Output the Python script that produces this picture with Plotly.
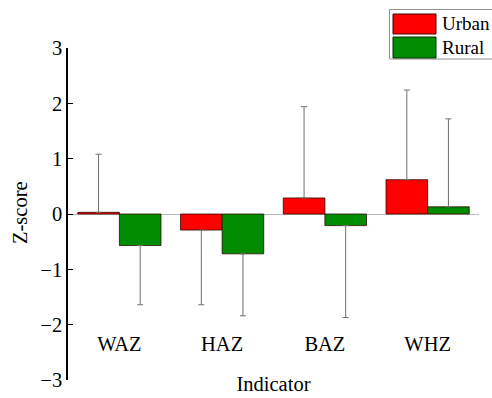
import plotly.graph_objects as go

categories = ["WAZ", "HAZ", "BAZ", "WHZ"]
urban_mean = [0.03, -0.29, 0.29, 0.62]
rural_mean = [-0.57, -0.72, -0.21, 0.13]
urban_sd = [1.05, 1.35, 1.65, 1.62]
rural_sd = [1.07, 1.12, 1.66, 1.59]
y_ticks = [-3, -2, -1, 0, 1, 2, 3]

FONT = "Liberation Serif, Times New Roman, serif"
RED = "#FF0000"
GREEN = "#008C00"
ERR = "#707070"
FS = 20.5


def up(m, s):
    return [sd if v >= 0 else 0 for v, sd in zip(m, s)]


def down(m, s):
    return [sd if v < 0 else 0 for v, sd in zip(m, s)]


fig = go.Figure()
for name, m, s, c in [("Urban", urban_mean, urban_sd, RED),
                      ("Rural", rural_mean, rural_sd, GREEN)]:
    fig.add_trace(go.Bar(
        x=categories, y=m, name=name,
        marker=dict(color=c, line=dict(color="rgba(40,0,0,0.75)", width=1)),
        error_y=dict(type="data", symmetric=False, array=up(m, s),
                     arrayminus=down(m, s), color=ERR, thickness=1, width=3),
        showlegend=False,
        hoverinfo="skip",
    ))

fig.update_layout(
    width=492, height=398,
    margin=dict(l=68, r=13, t=48, b=18),
    paper_bgcolor="white", plot_bgcolor="white",
    barmode="group", bargap=0.19, bargroupgap=0,
    font=dict(family=FONT, size=FS, color="black"),
    xaxis=dict(
        range=[-0.5, 3.5], anchor="free", position=0.152, automargin=False,
        showline=False, ticks="", showgrid=False, zeroline=False,
        tickfont=dict(size=FS),
        title=dict(text="Indicator", standoff=22, font=dict(size=FS)),
    ),
    yaxis=dict(
        range=[-3, 3], tickvals=y_ticks, showgrid=False, automargin=False,
        showline=True, linecolor="black", linewidth=1.5,
        ticks="inside", ticklen=5, tickcolor="black", tickwidth=1,
        zeroline=True, zerolinecolor="#b8b8b8", zerolinewidth=1,
        tickfont=dict(size=FS),
    ),
)


def px(x):
    return (x - 68) / 411


def py(y):
    return (380 - y) / 332


# y-axis title placed as rotated text
fig.add_annotation(text="Z-score", xref="paper", yref="paper",
                   x=px(20), y=py(213), xanchor="center", yanchor="middle",
                   textangle=-90, showarrow=False, font=dict(size=FS))

# custom legend (large swatches)
fig.add_shape(type="rect", xref="paper", yref="paper",
              x0=px(389.5), x1=px(497), y0=py(59), y1=py(9.5),
              line=dict(color="#909090", width=1), fillcolor="white")
fig.add_shape(type="rect", xref="paper", yref="paper",
              x0=px(393), x1=px(436), y0=py(34), y1=py(14),
              line=dict(color="#400000", width=1), fillcolor=RED)
fig.add_shape(type="rect", xref="paper", yref="paper",
              x0=px(393), x1=px(436), y0=py(58), y1=py(37),
              line=dict(color="#003000", width=1), fillcolor=GREEN)
for label, yc in [("Urban", 24), ("Rural", 47.5)]:
    fig.add_annotation(text=label, xref="paper", yref="paper",
                       x=px(440), y=py(yc), xanchor="left", yanchor="middle",
                       showarrow=False, font=dict(size=19))

fig.write_html(
    "out.html",
    config={"displayModeBar": False},
    post_script="document.body.style.margin='0';document.body.style.overflow='hidden';",
)
